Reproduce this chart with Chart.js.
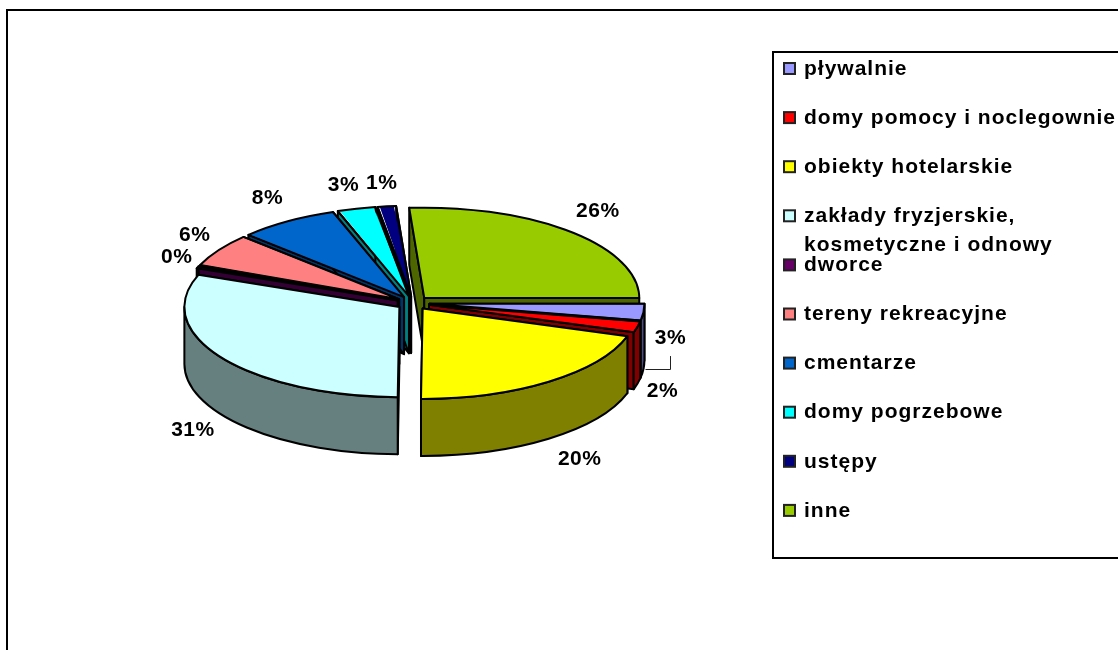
<!DOCTYPE html>
<html>
<head>
<meta charset="utf-8">
<title>Wykres</title>
<script src="https://cdn.jsdelivr.net/npm/chart.js@4"></script>
<style>
  html, body { margin: 0; padding: 0; background: #fff; overflow: hidden; }
  canvas { display: block; }
</style>
</head>
<body>
<canvas id="pieChart" width="1118" height="650"></canvas>
<script>
// Data
const categories = ['pływalnie', 'domy pomocy i noclegownie', 'obiekty hotelarskie',
    'zakłady fryzjerskie, kosmetyczne i odnowy', 'dworce', 'tereny rekreacyjne',
    'cmentarze', 'domy pogrzebowe', 'ustępy', 'inne'];
const shares = [3, 2, 20.4, 31, 0.4, 6, 7.6, 2.9, 1.4, 26.4];
const sliceColors = ['#9999FF', '#FF0000', '#FFFF00', '#CCFFFF', '#660066',
    '#FF8080', '#0066CC', '#00FFFF', '#000080', '#99CC00'];

// Look of the fake 3D pie
const SQUASH = 0.42;
const DEPTH = 57;
const FONT = 'bold 21px "Liberation Sans", Arial, sans-serif';
// where each percent label sits relative to the rim of its slice
const labelNudge = [[27, 26], [25, 64], [31, 77], [-29, 72], [-21, -10],
    [-24, -15], [-20, -23], [-13, -24], [-5, -23], [27, -21]];

function darker(hex) {
    const n = parseInt(hex.slice(1), 16);
    const half = v => Math.round(v / 2);
    return 'rgb(' + half(n >> 16) + ',' + half((n >> 8) & 255) + ',' + half(n & 255) + ')';
}

// Geometry of a slice on screen, from the arc element the library laid out
function sliceShape(arc) {
    const off = arc.options.offset / 4;
    const mid = (arc.startAngle + arc.endAngle) / 2;
    return {
        start: arc.startAngle,
        end: arc.endAngle,
        mid: mid,
        x: arc.x + Math.cos(mid) * off,
        y: arc.y + Math.sin(mid) * off * SQUASH,
        r: arc.outerRadius,
        ry: arc.outerRadius * SQUASH
    };
}

function rimPoint(s, angle) {
    return [s.x + Math.cos(angle) * s.r, s.y + Math.sin(angle) * s.ry];
}

function traceTop(ctx, s) {
    ctx.moveTo(s.x, s.y);
    ctx.ellipse(s.x, s.y, s.r, s.ry, 0, s.start, s.end);
    ctx.closePath();
}

function drawEdgeWall(ctx, s, angle) {
    const p = rimPoint(s, angle);
    ctx.beginPath();
    ctx.moveTo(s.x, s.y);
    ctx.lineTo(p[0], p[1]);
    ctx.lineTo(p[0], p[1] + DEPTH);
    ctx.lineTo(s.x, s.y + DEPTH);
    ctx.closePath();
    ctx.fill();
    ctx.stroke();
}

function drawWalls(chart) {
    const ctx = chart.ctx;
    const arcs = chart.getDatasetMeta(0).data;
    const order = arcs.map((arc, i) => i).sort((a, b) =>
        Math.sin(sliceShape(arcs[a]).mid) - Math.sin(sliceShape(arcs[b]).mid));

    ctx.save();
    ctx.strokeStyle = '#000';
    ctx.lineWidth = 2;
    ctx.lineJoin = 'round';
    order.forEach(i => {
        const s = sliceShape(arcs[i]);
        ctx.fillStyle = darker(sliceColors[i]);
        drawEdgeWall(ctx, s, s.start);
        drawEdgeWall(ctx, s, s.end);
        // only the part of the rim facing the viewer shows
        const a0 = Math.max(s.start, 0);
        const a1 = Math.min(s.end, Math.PI);
        if (a1 > a0) {
            ctx.beginPath();
            ctx.ellipse(s.x, s.y, s.r, s.ry, 0, a0, a1);
            ctx.ellipse(s.x, s.y + DEPTH, s.r, s.ry, 0, a1, a0, true);
            ctx.closePath();
            ctx.fill();
            ctx.stroke();
        }
    });
    ctx.restore();
}

function drawTopOutlines(chart) {
    const ctx = chart.ctx;
    ctx.save();
    ctx.strokeStyle = '#000';
    ctx.lineWidth = 2;
    ctx.lineJoin = 'round';
    chart.getDatasetMeta(0).data.forEach(arc => {
        ctx.beginPath();
        traceTop(ctx, sliceShape(arc));
        ctx.stroke();
    });
    ctx.restore();
}

function drawPercentLabels(chart) {
    const ctx = chart.ctx;
    ctx.save();
    ctx.font = FONT;
    ctx.letterSpacing = '0.5px';
    ctx.fillStyle = '#000';
    ctx.textAlign = 'center';
    ctx.textBaseline = 'middle';
    chart.getDatasetMeta(0).data.forEach((arc, i) => {
        const s = sliceShape(arc);
        const p = rimPoint(s, s.mid);
        ctx.fillText(Math.round(shares[i]) + '%', p[0] + labelNudge[i][0], p[1] + labelNudge[i][1]);
        // the small leader line under the first label
        if (i === 0) {
            const lx = Math.round(p[0] + labelNudge[i][0]);
            const ly = Math.round(p[1] + DEPTH);
            ctx.strokeStyle = '#222';
            ctx.lineWidth = 1;
            ctx.beginPath();
            ctx.moveTo(p[0] + 2, ly + 0.5);
            ctx.lineTo(lx + 0.5, ly + 0.5);
            ctx.lineTo(lx + 0.5, p[1] + labelNudge[i][1] + 18);
            ctx.stroke();
        }
    });
    ctx.restore();
}

function drawLegend(chart) {
    const ctx = chart.ctx;
    const box = { left: 773, top: 52, right: 1130, bottom: 558 };
    const firstRow = 69, rowStep = 49.1, wrapStep = 29;

    ctx.save();
    ctx.strokeStyle = '#000';
    ctx.lineWidth = 2;
    ctx.strokeRect(box.left, box.top, box.right - box.left, box.bottom - box.top);

    ctx.font = FONT;
    ctx.letterSpacing = '1px';
    ctx.textBaseline = 'middle';
    ctx.textAlign = 'left';
    categories.forEach((name, i) => {
        const y = firstRow + i * rowStep;
        ctx.fillStyle = sliceColors[i];
        ctx.fillRect(784, y - 6, 11, 11);
        ctx.strokeStyle = '#222';
        ctx.lineWidth = 2;
        ctx.strokeRect(784, y - 6, 11, 11);
        ctx.fillStyle = '#000';
        // the long entry wraps after the comma
        const cut = name.indexOf(', ');
        if (cut > 0) {
            ctx.fillText(name.slice(0, cut + 1), 804, y);
            ctx.fillText(name.slice(cut + 2), 804, y + wrapStep);
        } else {
            ctx.fillText(name, 804, y);
        }
    });
    ctx.restore();
}

const pie3d = {
    id: 'pie3d',
    beforeDraw(chart) {
        const ctx = chart.ctx;
        ctx.save();
        ctx.fillStyle = '#fff';
        ctx.fillRect(0, 0, chart.width, chart.height);
        // outer frame runs off the right and bottom of the picture
        ctx.strokeStyle = '#000';
        ctx.lineWidth = 2;
        ctx.strokeRect(7, 10, chart.width + 20, chart.height + 20);
        ctx.restore();
    },
    beforeDatasetsDraw(chart) {
        drawWalls(chart);
        const ctx = chart.ctx;
        const arcs = chart.getDatasetMeta(0).data;
        const cy = arcs[0].y;
        ctx.save();
        // thin arcs come out with a longer radius than the wide ones, so keep all inside the rim
        ctx.beginPath();
        arcs.forEach(arc => traceTop(ctx, sliceShape(arc)));
        ctx.clip();
        // the library paints the slice tops, flattened into an ellipse
        ctx.translate(0, cy);
        ctx.scale(1, SQUASH);
        ctx.translate(0, -cy);
    },
    afterDatasetsDraw(chart) {
        chart.ctx.restore();
        drawTopOutlines(chart);
        drawPercentLabels(chart);
        drawLegend(chart);
    }
};

document.addEventListener('DOMContentLoaded', function() {
    new Chart(document.getElementById('pieChart'), {
        type: 'pie',
        data: {
            labels: categories,
            datasets: [{
                data: shares,
                backgroundColor: sliceColors,
                borderWidth: 0,
                offset: 66,
                clip: false
            }]
        },
        options: {
            responsive: false,
            animation: false,
            rotation: 90,
            radius: 215,
            layout: { padding: { left: 0, top: 0, right: 292, bottom: 44 } },
            plugins: {
                legend: { display: false },
                tooltip: { enabled: false }
            }
        },
        plugins: [pie3d]
    });
});
</script>
</body>
</html>
